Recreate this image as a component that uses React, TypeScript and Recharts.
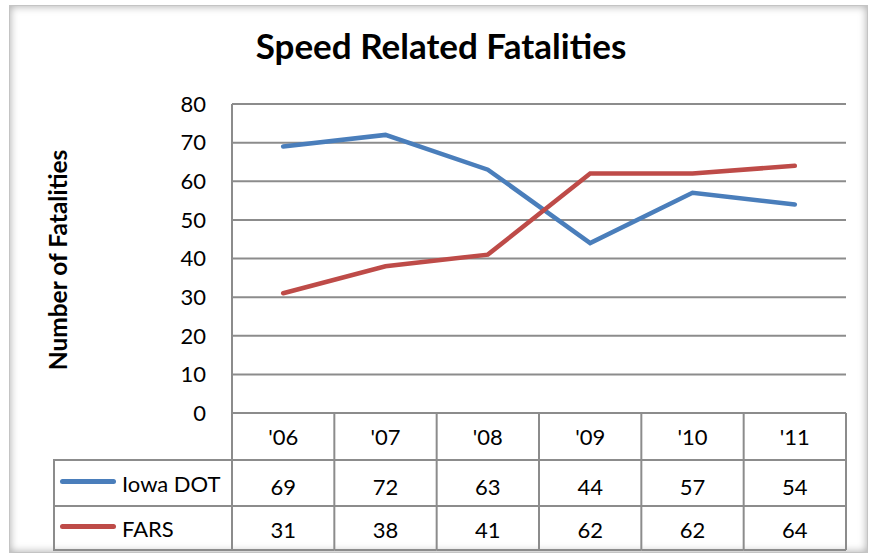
import React from 'react'
import { LineChart, Line, XAxis, YAxis, CartesianGrid, Legend } from 'recharts'

const categories = ["'06", "'07", "'08", "'09", "'10", "'11"]
const iowaDot = [69, 72, 63, 44, 57, 54]
const fars = [31, 38, 41, 62, 62, 64]
const yTicks = [0, 10, 20, 30, 40, 50, 60, 70, 80]
const seriesOrder = ['iowa', 'fars']

const data = categories.map((year, i) => ({ year, iowa: iowaDot[i], fars: fars[i] }))

const W = 876
const H = 560
const PLOT_L = 232
const PLOT_R = 846
const PLOT_T = 104
const PLOT_B = 413
const ROW1 = 460
const ROW2 = 506
const TABLE_B = 550
const COL_W = (PLOT_R - PLOT_L) / categories.length
const GRID = '#8c8c8c'
const FONT = 'Lato, "Open Sans", sans-serif'
const FS = 22

const TableTick = (props: any) => {
  const { x, payload, index } = props
  const row = data.find((d) => d.year === payload.value) || data[index]
  const l = x - COL_W / 2
  const r = x + COL_W / 2
  return (
    <g>
      {index === 0 && <line x1={l} x2={l} y1={PLOT_B} y2={TABLE_B} stroke={GRID} strokeWidth={2} />}
      <line x1={r} x2={r} y1={PLOT_B} y2={TABLE_B} stroke={GRID} strokeWidth={2} />
      <line x1={l} x2={r} y1={ROW1} y2={ROW1} stroke={GRID} strokeWidth={2} />
      <line x1={l} x2={r} y1={ROW2} y2={ROW2} stroke={GRID} strokeWidth={2} />
      <line x1={l} x2={r} y1={TABLE_B} y2={TABLE_B} stroke={GRID} strokeWidth={2} />
      <text x={x} y={445} textAnchor="middle" fontSize={FS} fill="#000" fontFamily={FONT}>{payload.value}</text>
      <text x={x} y={495} textAnchor="middle" fontSize={FS} fill="#000" fontFamily={FONT}>{row.iowa}</text>
      <text x={x} y={538} textAnchor="middle" fontSize={FS} fill="#000" fontFamily={FONT}>{row.fars}</text>
    </g>
  )
}

const TableLegend = (props: any) => {
  const items = [...(props.payload || [])].sort(
    (a: any, b: any) => seriesOrder.indexOf(a.dataKey) - seriesOrder.indexOf(b.dataKey),
  )
  const heights = [ROW2 - ROW1, TABLE_B - ROW2]
  return (
    <div style={{ width: PLOT_L - 53, borderLeft: `2px solid ${GRID}`, borderTop: `2px solid ${GRID}`, boxSizing: 'border-box' }}>
      {items.map((it: any, i: number) => (
        <div
          key={it.value}
          style={{
            height: heights[i] || 44,
            borderBottom: `2px solid ${GRID}`,
            boxSizing: 'border-box',
            display: 'flex',
            alignItems: 'center',
            fontFamily: FONT,
            fontSize: FS,
            color: '#000',
          }}
        >
          <div style={{ width: 56, height: 5, borderRadius: 3, background: it.color, marginLeft: 5, marginRight: 6, marginTop: -4 }} />
          <span>{it.value}</span>
        </div>
      ))}
    </div>
  )
}

export default function App() {
  return (
    <div style={{ position: 'absolute', left: 0, top: 0, width: W, height: H, background: '#fff' }}>
      <div
        style={{
          position: 'absolute', left: 9, top: 5, width: 859, height: 548,
          border: '1px solid #c4c4c4', boxSizing: 'border-box',
          boxShadow: 'inset 0 0 8px rgba(0,0,0,0.35)', background: '#fff',
        }}
      />
      <div
        style={{
          position: 'absolute', left: 0, top: 24, width: 882, textAlign: 'center',
          fontFamily: FONT, fontWeight: 700, fontSize: 35, color: '#000', lineHeight: 1.2,
        }}
      >
        Speed Related Fatalities
      </div>
      <div style={{ position: 'absolute', left: 0, top: 0 }}>
        <LineChart
          width={W}
          height={H}
          data={data}
          margin={{ top: PLOT_T, right: W - PLOT_R, bottom: H - TABLE_B, left: 0 }}
        >
          <CartesianGrid vertical={false} stroke={GRID} strokeWidth={2} strokeDasharray="" />
          <XAxis
            dataKey="year"
            padding={{ left: COL_W / 2, right: COL_W / 2 }}
            height={TABLE_B - PLOT_B}
            axisLine={{ stroke: GRID, strokeWidth: 2 }}
            tickLine={false}
            tick={<TableTick />}
            interval={0}
          />
          <YAxis
            width={PLOT_L}
            domain={[0, 80]}
            ticks={yTicks}
            interval={0}
            axisLine={{ stroke: GRID, strokeWidth: 2 }}
            tickLine={false}
            tickMargin={20}
            tick={{ fill: '#000', fontSize: FS, fontFamily: FONT }}
            label={() => (
              <text
                x={67}
                y={260}
                transform="rotate(-90 67 260)"
                textAnchor="middle"
                fontFamily={FONT}
                fontWeight={700}
                fontSize={24.5}
                fill="#000"
              >
                Number of Fatalities
              </text>
            )}
          />
          <Legend
            layout="vertical"
            align="center"
            verticalAlign="middle"
            content={<TableLegend />}
            wrapperStyle={{ position: 'absolute', left: 53, top: ROW1 - 1, width: PLOT_L - 53 }}
          />
          <Line
            name="Iowa DOT"
            dataKey="iowa"
            stroke="#4a7ebb"
            strokeWidth={4.5}
            dot={false}
            strokeLinecap="round"
            isAnimationActive={false}
          />
          <Line
            name="FARS"
            dataKey="fars"
            stroke="#be4b48"
            strokeWidth={4.5}
            dot={false}
            strokeLinecap="round"
            isAnimationActive={false}
          />
        </LineChart>
      </div>
    </div>
  )
}
